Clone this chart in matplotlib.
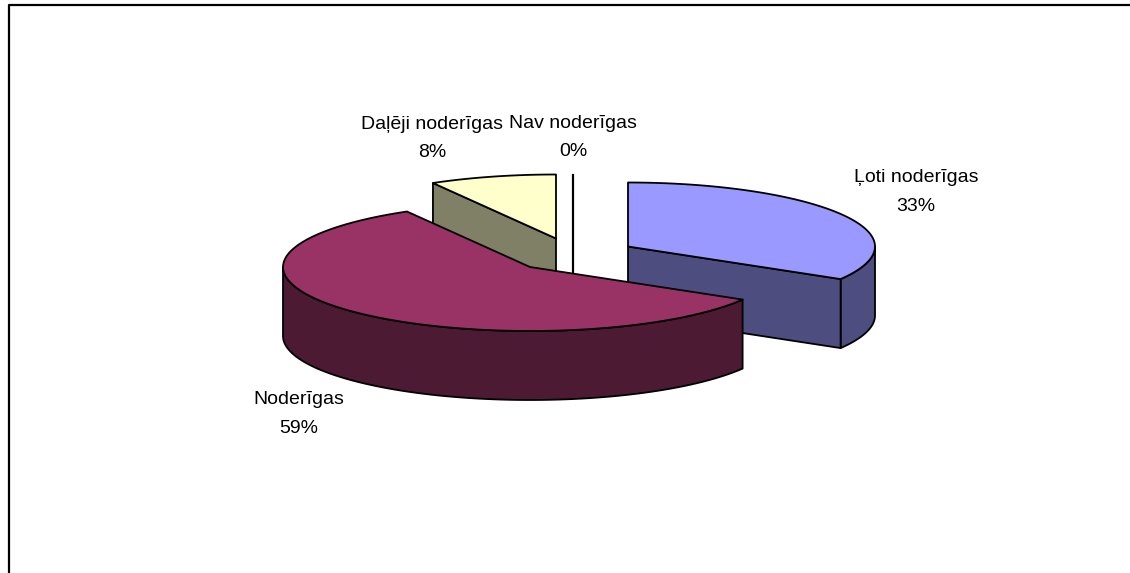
import numpy as np
import matplotlib
matplotlib.use('Agg')
import matplotlib.pyplot as plt
from matplotlib.patches import Polygon

plt.rcParams['font.family'] = ['Liberation Sans', 'DejaVu Sans']

categories = ['Ļoti noderīgas', 'Noderīgas', 'Daļēji noderīgas', 'Nav noderīgas']
percent_labels = ['33%', '59%', '8%', '0%']
# slice sizes, labels above are the printed ones
shares = [33.5, 58.2, 8.3, 0]
top_colors = ['#9999ff', '#993366', '#ffffcc', '#ccffff']
side_colors = ['#4d4d80', '#4d1a33', '#808066', '#668080']

# apex of each exploded slice, in pixels
apex_x = [628, 530, 556, 573]
apex_y = [246.5, 267, 238.5, 239]
label_x = [916, 299, 432, 573]
label_y = [192, 414, 138.5, 137.5]

rx = 247
ry = 64
depth = 69


def rim(ang0, ang1, cx, cy):
    t = np.radians(np.linspace(ang0, ang1, 80))
    return np.column_stack([cx + rx * np.sin(t), cy - ry * np.cos(t)])


def draw_slice(ax, ang0, ang1, cx, cy, top, side, zorder):
    down = np.array([0, depth])
    apex = np.array([cx, cy])
    edge = rim(ang0, ang1, cx, cy)
    style = dict(edgecolor='black', linewidth=1.3, joinstyle='round')

    # outer wall only where the rim faces the viewer
    t0, t1 = max(ang0, 90), min(ang1, 270)
    if t1 > t0:
        wall = rim(t0, t1, cx, cy)
        ax.add_patch(Polygon(np.vstack([wall, (wall + down)[::-1]]),
                             facecolor=side, zorder=zorder, **style))
    # cut faces
    for pt, visible in [(edge[0], ang0 > 180), (edge[-1], ang1 < 180)]:
        if visible:
            ax.add_patch(Polygon([apex, pt, pt + down, apex + down],
                                 facecolor=side, zorder=zorder, **style))
    ax.add_patch(Polygon(np.vstack([apex, edge]), facecolor=top, zorder=zorder + 0.5, **style))


fig = plt.figure(figsize=(11.3, 5.73), dpi=100)
ax = fig.add_axes([0, 0, 1, 1])
ax.set_xlim(0, 1130)
ax.set_ylim(573, 0)
ax.axis('off')

# chart frame is cut off by the image at right and bottom
ax.plot([8.5, 8.5, 1130], [573, 5, 5], color='black', linewidth=1.6, zorder=1)

angles = np.cumsum([0] + shares) * 3.6
order = [3, 2, 0, 1]
for z, i in enumerate(order):
    if shares[i] == 0:
        x0, y0 = apex_x[i], apex_y[i]
        pt = rim(angles[i], angles[i], x0, y0)[0]
        ax.plot([x0, x0], [pt[1], y0 + 40], color='black', linewidth=1.6, zorder=2 + z)
    else:
        draw_slice(ax, angles[i], angles[i + 1], apex_x[i], apex_y[i],
                   top_colors[i], side_colors[i], 2 + z)

for i, name in enumerate(categories):
    ax.text(label_x[i], label_y[i], f'{name}\n{percent_labels[i]}', ha='center', va='center',
            fontsize=14, color='black', linespacing=1.9, zorder=10)

fig.savefig('out.png', dpi=100)
